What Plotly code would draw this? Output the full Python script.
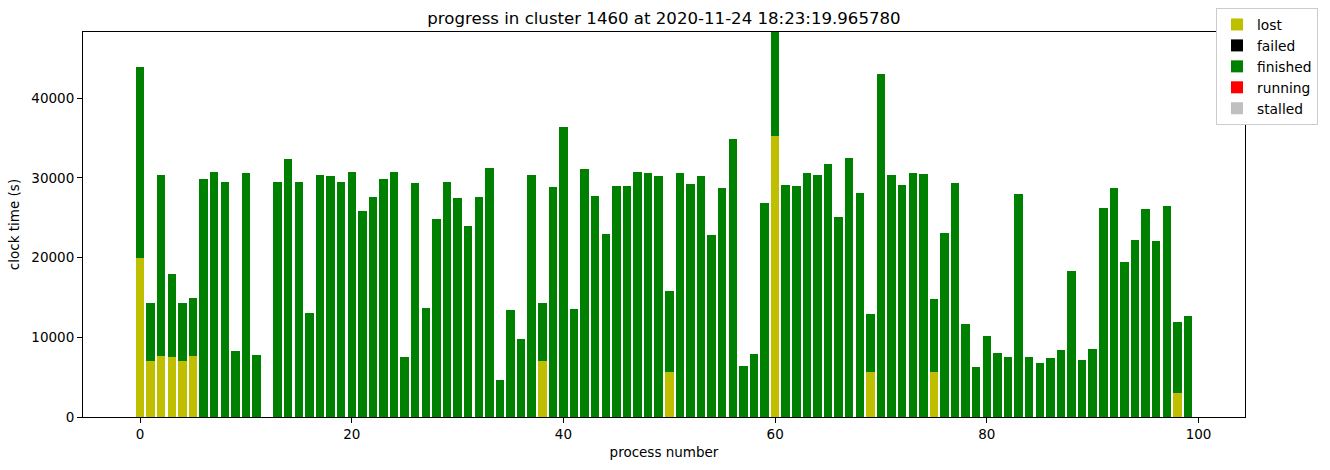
import plotly.graph_objects as go

process = list(range(100))

total = [43890, 14296, 30347, 17932, 14296, 14923, 29845, 30723, 29469, 8276,
         30597, 7775, 0, 29469, 32353, 29469, 13042, 30347, 30221, 29469,
         30723, 25832, 27588, 29845, 30723, 7524, 29344, 13669, 24829, 29469,
         27463, 23951, 27588, 31224, 4640, 13418, 9781, 30347, 14296, 28842,
         36366, 13543, 31099, 27713, 22948, 28967, 28967, 30723, 30597, 30221,
         15800, 30597, 29218, 30221, 22823, 28717, 34861, 6395, 7900, 26836,
         48280, 29093, 28967, 30597, 30347, 31726, 25080, 32479, 28090, 12916,
         43012, 30347, 29093, 30597, 30472, 14797, 23073, 29344, 11662, 6270,
         10157, 8026, 7524, 27964, 7524, 6772, 7399, 8402, 18308, 7148,
         8527, 26209, 28717, 19437, 22196, 26083, 22070, 26460, 11913, 12665]

lost = [0] * 100
for i, v in {0: 19940, 1: 7022, 2: 7649, 3: 7524, 4: 7022, 5: 7649, 38: 7022,
             50: 5643, 60: 35237, 69: 5643, 75: 5643, 98: 3010}.items():
    lost[i] = v

failed = [0] * 100
finished = [t - l for t, l in zip(total, lost)]
running = [0] * 100
stalled = [0] * 100

series = [("lost", lost, "#bfbf00"), ("failed", failed, "#000000"),
          ("finished", finished, "#008000"), ("running", running, "#ff0000"),
          ("stalled", stalled, "#c0c0c0")]

yticks = [0, 10000, 20000, 30000, 40000]
xticks = [0, 20, 40, 60, 80, 100]

fig = go.Figure()
for name, vals, col in series:
    fig.add_trace(go.Bar(x=process, y=vals, name=name, marker_color=col,
                         marker_line_width=0))

font = "DejaVu Sans"
fig.update_layout(
    width=1330, height=470,
    barmode="stack", bargap=0.2,
    plot_bgcolor="white", paper_bgcolor="white",
    margin=dict(l=83, r=85, t=32, b=53, autoexpand=False),
    font=dict(family=font, size=13, color="black"),
    title=dict(text="progress in cluster 1460 at 2020-11-24 18:23:19.965780",
               x=664 / 1330, xanchor="center", y=1 - 18 / 470, yanchor="middle",
               font=dict(size=16.6, family=font)),
    showlegend=True,
    legend=dict(xref="container", yref="container", x=1216 / 1330, y=1 - 8 / 470,
                xanchor="left", yanchor="top", bordercolor="#cccccc", borderwidth=1,
                bgcolor="white", font=dict(size=13.8, family=font),
                traceorder="normal", tracegroupgap=0, itemsizing="constant"),
)
fig.update_xaxes(range=[-5.39, 104.39], tickvals=xticks, ticktext=[str(v) for v in xticks],
                 showline=True, linecolor="black", linewidth=1, mirror=True,
                 ticks="outside", ticklen=5, tickcolor="black", showgrid=False,
                 zeroline=False, tickfont=dict(size=13.5),
                 title=dict(text="process number", font=dict(size=13.5), standoff=6))
fig.update_yaxes(range=[0, 48280], tickvals=yticks, ticktext=[str(v) for v in yticks],
                 showline=True, linecolor="black", linewidth=1, mirror=True,
                 ticks="outside", ticklen=5, tickcolor="black", showgrid=False,
                 zeroline=False, tickfont=dict(size=13.5),
                 title=dict(text="clock time (s)", font=dict(size=13.5), standoff=8))

fig.write_html("out.html")
